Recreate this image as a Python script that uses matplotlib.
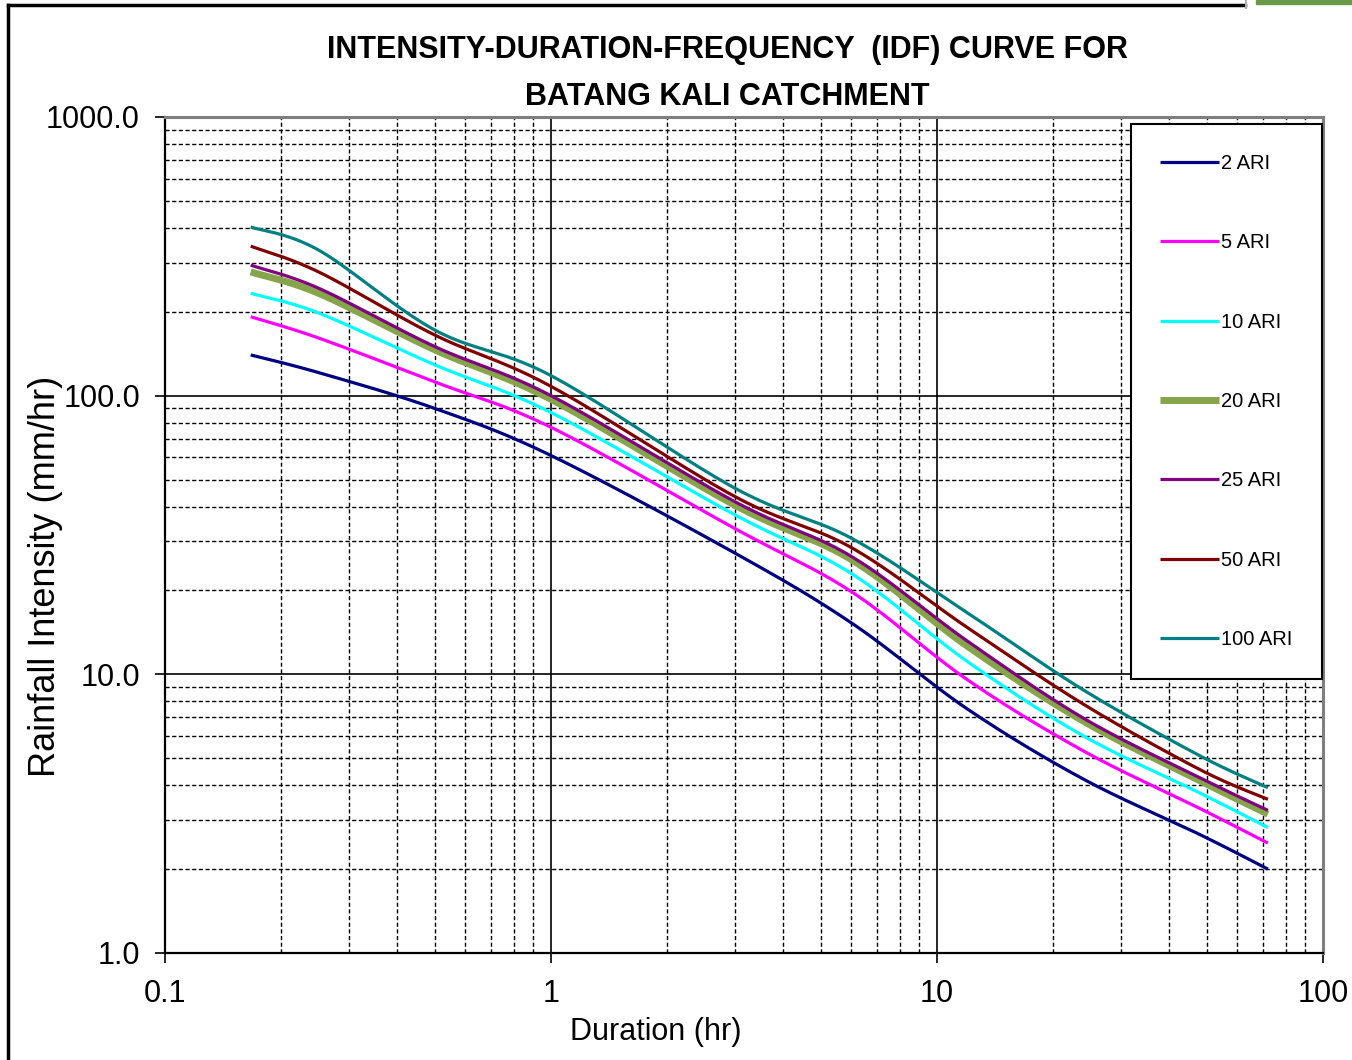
import numpy as np
import matplotlib
matplotlib.use("Agg")
import matplotlib.pyplot as plt
from matplotlib.lines import Line2D
from matplotlib.patches import Rectangle

# ---------------- data ----------------
durations = [0.1667, 0.25, 0.5, 1, 3, 6, 12, 24, 48, 72]
ari_labels = ["2 ARI", "5 ARI", "10 ARI", "20 ARI", "25 ARI", "50 ARI", "100 ARI"]
ari_2 = [140, 121, 90, 61, 27.2, 15.3, 7.5, 4.2, 2.66, 2.0]
ari_5 = [192, 161, 112, 77, 33.3, 19.8, 9.55, 5.3, 3.3, 2.48]
ari_10 = [233, 198, 129, 87, 37.3, 23.0, 11.1, 6.0, 3.75, 2.82]
ari_20 = [278, 233, 146, 97, 40.4, 25.8, 12.6, 6.78, 4.15, 3.15]
ari_25 = [294, 243, 150, 100, 41.6, 26.5, 13.15, 6.95, 4.25, 3.25]
ari_50 = [344, 278, 165, 108, 43.4, 28.5, 14.7, 7.8, 4.55, 3.56]
ari_100 = [403, 333, 172, 118, 46.5, 30.8, 16.6, 8.77, 5.1, 3.92]
series = [ari_2, ari_5, ari_10, ari_20, ari_25, ari_50, ari_100]

x_ticks = [0.1, 1, 10, 100]
x_ticklabels = ["0.1", "1", "10", "100"]
y_ticks = [1, 10, 100, 1000]
y_ticklabels = ["1.0", "10.0", "100.0", "1000.0"]

title_lines = ["INTENSITY-DURATION-FREQUENCY  (IDF) CURVE FOR", "BATANG KALI CATCHMENT"]
x_label = "Duration (hr)"
y_label = "Rainfall Intensity (mm/hr)"

colors = ["#000080", "#FF00FF", "#00FFFF", "#86A44A", "#800080", "#800000", "#008080"]
widths = [2.3, 2.3, 2.3, 5.0, 2.3, 2.3, 2.3]

FONT = ["Liberation Sans", "DejaVu Sans"]


def smooth_loglog(x, y, n=40):
    """Excel-style smoothed line (cubic Bezier through the points) in log-log space."""
    P = np.column_stack([np.log10(x), np.log10(y)])
    m = len(P)
    out = [P[0]]
    for i in range(m - 1):
        p0 = P[i - 1] if i > 0 else P[i]
        p1, p2 = P[i], P[i + 1]
        p3 = P[i + 2] if i + 2 < m else P[i + 1]
        c1 = p1 + (p2 - p0) / 6.0
        c2 = p2 - (p3 - p1) / 6.0
        t = np.linspace(0, 1, n)[1:, None]
        seg = ((1 - t) ** 3) * p1 + 3 * ((1 - t) ** 2) * t * c1 + 3 * (1 - t) * t ** 2 * c2 + t ** 3 * p2
        out.extend(seg)
    out = np.array(out)
    return 10 ** out[:, 0], 10 ** out[:, 1]


fig = plt.figure(figsize=(13.52, 10.60), dpi=100)
W, H = 1352, 1060
ax = fig.add_axes([165 / W, 1 - 953 / H, (1323 - 165) / W, (953 - 117) / H])

ax.set_xscale("log")
ax.set_yscale("log")
ax.set_xlim(0.1, 100)
ax.set_ylim(1, 1000)

# grid
ax.set_xticks(x_ticks)
ax.set_yticks(y_ticks)
ax.set_xticks([m * 10.0 ** e for e in (-1, 0, 1) for m in range(2, 10)], minor=True)
ax.set_yticks([m * 10.0 ** e for e in (0, 1, 2) for m in range(2, 10)], minor=True)
ax.grid(which="major", color="black", linewidth=1.2, linestyle="-", zorder=0)
ax.grid(which="minor", color="black", linewidth=1.0, linestyle=(0, (3, 1.8)), zorder=0)
ax.set_axisbelow(True)

ax.set_xticklabels(x_ticklabels, fontsize=22, family=FONT)
ax.set_yticklabels(y_ticklabels, fontsize=22, family=FONT)
ax.tick_params(which="major", direction="out", length=7, width=1.2, color="black")
ax.tick_params(axis="x", which="major", pad=12)
ax.tick_params(axis="y", which="major", pad=11)
ax.tick_params(which="minor", length=0)

for s in ("left", "bottom"):
    ax.spines[s].set_color("black")
    ax.spines[s].set_linewidth(1.6)
for s in ("top", "right"):
    ax.spines[s].set_color("#7f7f7f")
    ax.spines[s].set_linewidth(2.2)

handles = []
for vals, lab, c, lw in zip(series, ari_labels, colors, widths):
    xs, ys = smooth_loglog(durations, vals)
    ln, = ax.plot(xs, ys, color=c, linewidth=lw, label=lab, solid_capstyle="butt", zorder=3)
    handles.append(ln)

leg = ax.legend(handles=handles, loc="upper right",
                bbox_to_anchor=((1322 - 165) / 1158, (953 - 124) / 836),
                borderaxespad=0, fancybox=False, shadow=False,
                framealpha=1, edgecolor="black", handlelength=2.9, handletextpad=0.1,
                labelspacing=3.0, borderpad=1.48,
                prop={"family": FONT, "size": 14.5})
leg.get_frame().set_linewidth(1.5)
leg.set_zorder(5)

# titles and labels
fig.text(727 / W, 1 - 50 / H, title_lines[0], ha="center", va="center",
         fontsize=22, fontweight="bold", family=FONT)
fig.text(727 / W, 1 - 97 / H, title_lines[1], ha="center", va="center",
         fontsize=22, fontweight="bold", family=FONT)
fig.text(656 / W, 1 - 1032 / H, x_label, ha="center", va="center",
         fontsize=22, family=FONT)
fig.text(46 / W, 1 - 576 / H, y_label, ha="center", va="center",
         rotation=90, fontsize=26, family=FONT)

# outer frame fragments seen in the reference
fig.add_artist(Line2D([8 / W, 8 / W], [0, 1 - 5 / H], color="black", linewidth=2.5,
                      transform=fig.transFigure))
fig.add_artist(Line2D([8 / W, 1245 / W], [1 - 5 / H, 1 - 5 / H], color="black", linewidth=2.5,
                      transform=fig.transFigure))
fig.add_artist(Line2D([1246 / W, 1246 / W], [1, 1 - 8 / H], color="#b0b0b0", linewidth=1.5,
                      transform=fig.transFigure))
fig.add_artist(Rectangle((1256 / W, 1 - 4 / H), 96 / W, 4 / H, color="#6a9a45",
                         transform=fig.transFigure))

fig.savefig("out.png", dpi=100)
